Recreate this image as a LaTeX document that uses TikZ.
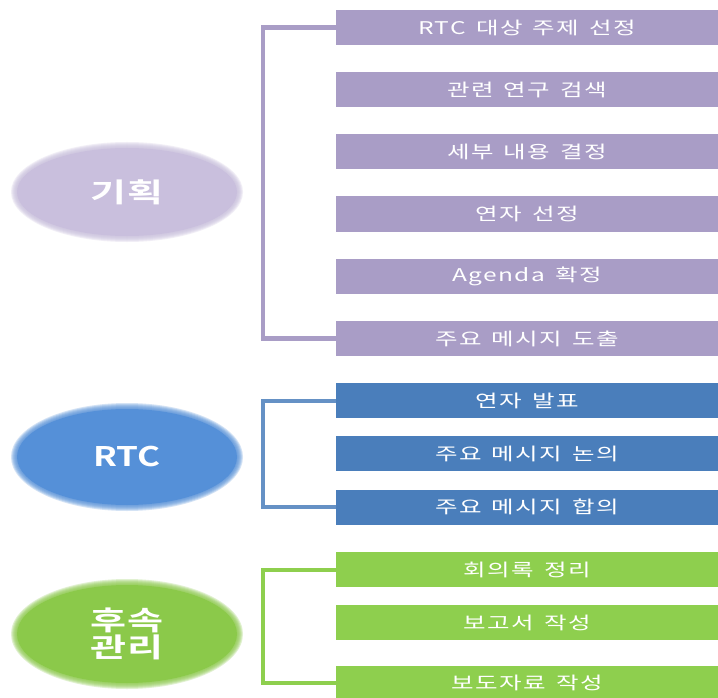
\documentclass[tikz,border=0pt]{standalone}
\usepackage{fontspec}
\usetikzlibrary{shapes.geometric}
\newfontfamily\kr[FakeStretch=1.4, LetterSpace=8, WordSpace=1.5]{Noto Sans CJK KR}
\newfontfamily\krbold[FakeStretch=1.3]{Noto Sans CJK KR Bold}
\newfontfamily\krboldwide[FakeStretch=1.45]{Noto Sans CJK KR Bold}
\definecolor{pbox}{HTML}{A99DC6}
\definecolor{pell}{HTML}{C9BFDD}
\definecolor{bbox}{HTML}{4A7EBB}
\definecolor{bell}{HTML}{5590D8}
\definecolor{gbox}{HTML}{8ECF4E}
\definecolor{gell}{HTML}{8BC94A}
\tikzset{
  x=1pt, y=-1pt,
  stepbox/.style={rectangle, inner sep=0pt, minimum width=382, minimum height=35, anchor=west, text=white, font=\kr\fontsize{17.5}{20}\selectfont},
  phase/.style={ellipse, inner sep=0pt, minimum width=220, text=white, font=\krboldwide\fontsize{27}{31}\selectfont, align=center},
  bracket/.style={line width=4.5pt, line cap=butt, line join=miter}
}
\begin{document}
\begin{tikzpicture}
\useasboundingbox (0,0) rectangle (718,698);
\fill[white] (0,0) rectangle (718,698);
% soft edges
\foreach \c/\y/\ry in {pell/192/45, bell/457/49, gell/634/50}{
  \foreach \d in {5,4,...,0}{
    \fill[\c, opacity=0.25] (127,\y) ellipse [x radius=111+\d, y radius=\ry+\d];
  }
  \fill[\c] (127,\y) ellipse [x radius=110, y radius=\ry-1];
}
\node[phase, minimum height=86] (plan) at (127,192) {기획};
\node[phase, minimum height=94, font=\krbold\fontsize{27}{31}\selectfont] (rtc) at (127,457) {RTC};
\node[phase, minimum height=96] (follow) at (127,634) {후속\\[-4pt]관리};

\node[stepbox, fill=pbox] (p1) at (336,27.5) {RTC 대상 주제 선정};
\node[stepbox, fill=pbox] (p2) at (336,89.5) {관련 연구 검색};
\node[stepbox, fill=pbox] (p3) at (336,152) {세부 내용 결정};
\node[stepbox, fill=pbox] (p4) at (336,214) {연자 선정};
\node[stepbox, fill=pbox] (p5) at (336,276.5) {Agenda 확정};
\node[stepbox, fill=pbox] (p6) at (336,338.5) {주요 메시지 도출};

\node[stepbox, fill=bbox] (r1) at (336,400.5) {연자 발표};
\node[stepbox, fill=bbox] (r2) at (336,453.5) {주요 메시지 논의};
\node[stepbox, fill=bbox] (r3) at (336,507) {주요 메시지 합의};

\node[stepbox, fill=gbox] (f1) at (336,569.5) {회의록 정리};
\node[stepbox, fill=gbox] (f2) at (336,622.5) {보고서 작성};
\node[stepbox, fill=gbox] (f3) at (336,683) {보도자료 작성};

\draw[bracket, pbox] (p1.west) -- ++(-73,0) |- (p6.west);
\draw[bracket, bbox!85!white, line width=4pt] (r1.west) -- ++(-73,0) |- (r3.west);
\draw[bracket, gbox, line width=4pt] (f1.west) -- ++(-73,0) |- (f3.west);
\end{tikzpicture}
\end{document}
